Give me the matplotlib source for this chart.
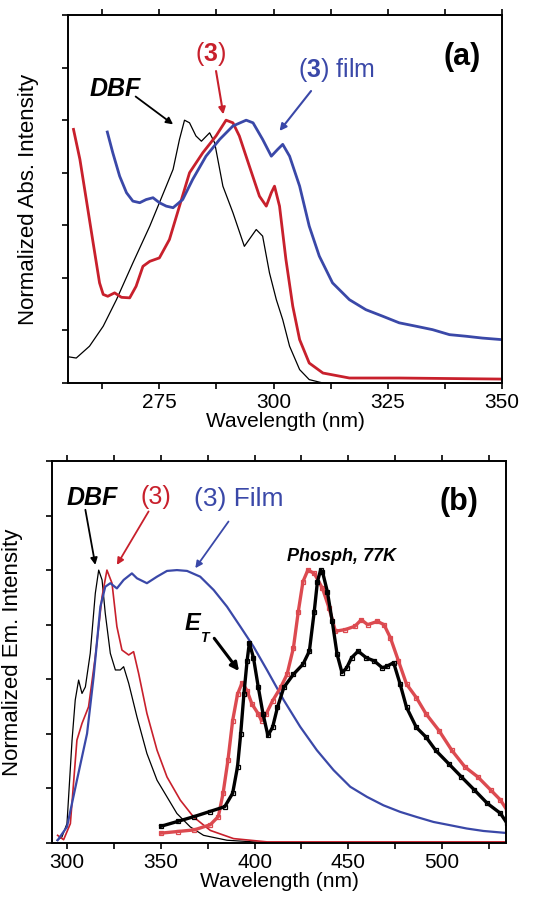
import numpy as np
import matplotlib
matplotlib.use("Agg")
import matplotlib.pyplot as plt

plt.rcParams['font.family'] = ['Liberation Sans', 'DejaVu Sans']
plt.rcParams['mathtext.fontset'] = 'custom'
plt.rcParams['mathtext.rm'] = 'Liberation Sans'
plt.rcParams['mathtext.bf'] = 'Liberation Sans:bold'
plt.rcParams['mathtext.it'] = 'Liberation Sans:italic'

RED = '#c8202c'
BLUE = '#3a48a8'
PINK = '#dc4a50'

# ---- panel (a): absorption ----
abs_dbf_x = [255, 256.8, 259.7, 262.7, 265.6, 269.2, 272.9, 276.5, 278, 279.4, 280.5, 281.6,
             283, 284.2, 286, 287.1, 288.9, 291.1, 293.6, 296.2, 297.6, 299.1, 300.6, 302,
             303.5, 305.7, 307.8, 310.8, 318]
abs_dbf_y = [0.10, 0.095, 0.14, 0.216, 0.317, 0.457, 0.597, 0.749, 0.813, 0.927, 1.0, 0.99,
             0.94, 0.92, 0.952, 0.914, 0.749, 0.648, 0.52, 0.584, 0.559, 0.419, 0.317, 0.241,
             0.14, 0.051, 0.013, 0.0, 0.0]

abs_3_x = [256.2, 257.6, 259, 260.5, 261.9, 262.7, 263.7, 265.2, 266.7, 268.5, 269.9, 271.4,
           272.9, 275, 277.2, 279.4, 281.6, 284.5, 287.4, 289.6, 291.1, 292.5, 294.7, 296.9,
           298.4, 299.5, 300.2, 301.3, 302.7, 304.2, 305.7, 307.8, 310.8, 316.6, 327.5, 350]
abs_3_y = [0.965, 0.851, 0.698, 0.533, 0.381, 0.337, 0.33, 0.343, 0.326, 0.324, 0.368, 0.444,
           0.463, 0.476, 0.546, 0.673, 0.8, 0.876, 0.94, 1.0, 0.99, 0.94, 0.825, 0.711,
           0.673, 0.724, 0.749, 0.673, 0.47, 0.292, 0.165, 0.076, 0.038, 0.019, 0.019, 0.015]

abs_film_x = [263.6, 264.8, 266.3, 267.8, 269.2, 270.7, 272.1, 273.6, 275, 276.5, 278, 280.1,
              282.3, 285.2, 288.2, 291.1, 294, 295.5, 297.6, 299.5, 300.9, 302, 303.5, 305.7,
              307.8, 310, 312.9, 316.6, 320.2, 323.9, 327.5, 331.2, 334.8, 338.5, 342.1,
              345.7, 350]
abs_film_y = [0.955, 0.876, 0.787, 0.724, 0.692, 0.686, 0.698, 0.705, 0.686, 0.673, 0.667, 0.698,
              0.775, 0.863, 0.927, 0.978, 1.0, 0.99, 0.927, 0.863, 0.889, 0.908, 0.863, 0.749,
              0.597, 0.483, 0.381, 0.317, 0.279, 0.254, 0.229, 0.216, 0.203, 0.184, 0.178,
              0.171, 0.165]

# ---- panel (b): emission ----
em_dbf_x = [294.7, 297.3, 300, 302.7, 304.4, 306.2, 308, 309.8, 312.4, 315.1, 316.9, 318.7,
            320.4, 323.1, 325.8, 328.4, 330.2, 332.9, 337.3, 342.6, 348, 353.3, 358.6, 365.7,
            372.8, 385.3, 406.6, 450]
em_dbf_y = [0.01, 0.022, 0.071, 0.377, 0.524, 0.597, 0.548, 0.572, 0.695, 0.915, 1.0, 0.964,
            0.842, 0.695, 0.634, 0.634, 0.646, 0.585, 0.462, 0.328, 0.23, 0.169, 0.108, 0.059,
            0.028, 0.01, 0.001, 0.0]

em_3_x = [295, 298.2, 301.8, 305.3, 308, 311.5, 315.1, 318.7, 321.3, 324, 326.6, 329.3, 332.9,
          335.5, 338.2, 342.6, 348, 353.3, 360.4, 367.5, 376.4, 388.8, 406.6, 534]
em_3_y = [0.028, 0.012, 0.071, 0.377, 0.438, 0.499, 0.683, 0.903, 1.0, 0.952, 0.793, 0.707,
          0.689, 0.701, 0.621, 0.475, 0.34, 0.242, 0.157, 0.095, 0.046, 0.016, 0.004, 0.004]

em_film_x = [295, 300, 305.3, 310.7, 314.2, 317.8, 320.4, 323.1, 326.6, 330.2, 334.6, 337.3,
             342.6, 348, 353.3, 358.6, 364, 371, 378.2, 385.3, 392.4, 399.5, 406.6, 415.5,
             424.3, 433.2, 442.1, 451, 459.9, 468.7, 477.6, 486.5, 495.4, 504.3, 513.1, 522,
             533.6]
em_film_y = [0.01, 0.059, 0.23, 0.401, 0.609, 0.866, 0.939, 0.952, 0.933, 0.964, 0.988, 0.97,
             0.952, 0.976, 0.997, 1.0, 0.997, 0.976, 0.927, 0.866, 0.793, 0.719, 0.634, 0.524,
             0.426, 0.34, 0.267, 0.206, 0.169, 0.138, 0.114, 0.095, 0.077, 0.065, 0.053, 0.044,
             0.037]

# phosphorescence at 77 K
ph_dbf_x = [350, 359, 367.9, 376, 384.1, 388.3, 390.9, 392.6, 394.3, 396, 397.2, 399.4, 402,
            404.5, 407.1, 409.6, 412.2, 415.6, 420.7, 425.8, 429.2, 431.8, 433.5, 435.2, 436.2,
            438.8, 441.4, 444, 446.6, 449.1, 451.7, 455.2, 459.5, 463.8, 468.1, 470.7, 474.1,
            477.6, 481, 486.2, 491.4, 496.6, 503.4, 510.3, 517.2, 524.1, 531, 534.5]
ph_dbf_y = [0.061, 0.079, 0.097, 0.115, 0.133, 0.182, 0.279, 0.4, 0.545, 0.667, 0.733, 0.679,
            0.57, 0.473, 0.394, 0.424, 0.497, 0.57, 0.618, 0.655, 0.703, 0.848, 0.958, 1.0, 0.994,
            0.921, 0.812, 0.691, 0.624, 0.642, 0.679, 0.703, 0.679, 0.667, 0.642, 0.648, 0.661,
            0.582, 0.497, 0.424, 0.388, 0.339, 0.291, 0.242, 0.194, 0.145, 0.109, 0.073]

ph_3_x = [350, 359, 367.9, 376.4, 380.7, 383.2, 385.8, 388.3, 390.9, 393.4, 396, 398.6, 402,
          403.7, 406.2, 409.6, 413.9, 417.3, 420.7, 423.3, 425.8, 428.4, 431.8, 436.2, 439.7,
          443.1, 448.3, 453.4, 456.9, 460.3, 465.5, 469, 472.4, 476.7, 481, 486.2, 491.4,
          498.3, 505.2, 512.1, 519, 525.9, 531, 534.5]
ph_3_y = [0.036, 0.042, 0.048, 0.067, 0.097, 0.182, 0.303, 0.448, 0.545, 0.588, 0.558, 0.509,
          0.473, 0.448, 0.473, 0.521, 0.57, 0.618, 0.715, 0.848, 0.958, 1.0, 0.988, 0.933,
          0.861, 0.776, 0.782, 0.794, 0.818, 0.8, 0.812, 0.8, 0.752, 0.667, 0.582, 0.533,
          0.473, 0.412, 0.339, 0.279, 0.242, 0.194, 0.158, 0.121]


def style_axes(ax, xlim, major, minor, ylabel):
    ax.set_xlim(*xlim)
    ax.set_ylim(0, 1.4)
    ax.set_xticks(major)
    ax.set_xticks(minor, minor=True)
    ax.set_yticks(np.arange(0, 1.41, 0.2))
    ax.set_yticklabels([])
    ax.tick_params(which='both', direction='out', length=4, width=1.2,
                   top=True, right=False, labelsize=15, pad=3)
    for s in ax.spines.values():
        s.set_linewidth(1.4)
    ax.set_xlabel('Wavelength (nm)', fontsize=15, labelpad=0)
    ax.set_ylabel(ylabel, fontsize=16, labelpad=14)


def arrow(ax, tail, head, color, lw=1.3, scale=10):
    ax.annotate('', xy=head, xytext=tail,
                arrowprops=dict(arrowstyle='-|>', color=color, lw=lw, shrinkA=0, shrinkB=0,
                                mutation_scale=scale))


fig = plt.figure(figsize=(5.42, 9.01), dpi=100)

ax1 = fig.add_axes([0.1255, 0.5749, 0.8007, 0.4084])
ax1.plot(abs_dbf_x, abs_dbf_y, color='black', lw=0.9)
ax1.plot(abs_3_x, abs_3_y, color=RED, lw=2)
ax1.plot(abs_film_x, abs_film_y, color=BLUE, lw=2)
style_axes(ax1, (255, 350), [275, 300, 325, 350], [262.5, 287.5, 312.5, 337.5],
           'Normalized Abs. Intensity')

ax1.text(265.3, 1.12, 'DBF', fontsize=18, fontweight='bold', style='italic',
         ha='center', va='center')
arrow(ax1, (269.8, 1.09), (278, 0.984), 'black')
ax1.text(286.2, 1.25, r'($\mathbf{3}$)', fontsize=18, color=RED, ha='center', va='center')
arrow(ax1, (287.4, 1.187), (289, 1.022), RED, lw=1.5)
ax1.text(313.7, 1.19, r'($\mathbf{3}$) film', fontsize=18, color=BLUE,
         ha='center', va='center')
arrow(ax1, (308.2, 1.111), (301.3, 0.959), BLUE, lw=1.5)
ax1.text(341.2, 1.24, '(a)', fontsize=22, fontweight='bold', ha='center', va='center')

ax2 = fig.add_axes([0.0959, 0.0644, 0.8376, 0.424])
ax2.plot(em_dbf_x, em_dbf_y, color='black', lw=0.9)
ax2.plot(em_3_x, em_3_y, color=RED, lw=1.2)
ax2.plot(em_film_x, em_film_y, color=BLUE, lw=1.6)
ax2.plot(ph_3_x, ph_3_y, color=PINK, lw=2.4, marker='s', ms=3, mfc='none', mew=0.9)
ax2.plot(ph_dbf_x, ph_dbf_y, color='black', lw=2.4, marker='s', ms=3, mfc='none', mew=0.9)
style_axes(ax2, (292, 534), [300, 350, 400, 450, 500], [325, 375, 425, 475, 525],
           'Normalized Em. Intensity')

ax2.text(313.7, 1.264, 'DBF', fontsize=18, fontweight='bold', style='italic',
         ha='center', va='center')
arrow(ax2, (309.8, 1.221), (315.1, 1.019), 'black')
ax2.text(347.4, 1.267, '(3)', fontsize=18, color=RED, ha='center', va='center')
arrow(ax2, (343.5, 1.215), (326.6, 1.019), RED)
ax2.text(391.8, 1.26, '(3) Film', fontsize=19, color=BLUE, ha='center', va='center')
arrow(ax2, (386.1, 1.178), (368.4, 1.007), BLUE)
ax2.text(509, 1.25, '(b)', fontsize=22, fontweight='bold', ha='center', va='center')
ax2.text(446.5, 1.05, 'Phosph, 77K', fontsize=13, fontweight='bold',
         style='italic', ha='center', va='center')
ax2.text(367, 0.806, 'E', fontsize=17, fontweight='bold', style='italic',
         ha='center', va='center')
ax2.text(373, 0.752, 'T', fontsize=10, fontweight='bold', style='italic',
         ha='center', va='center')
arrow(ax2, (378.5, 0.75), (391.7, 0.63), 'black', lw=2.2, scale=12)

fig.savefig('out.png', dpi=100)
